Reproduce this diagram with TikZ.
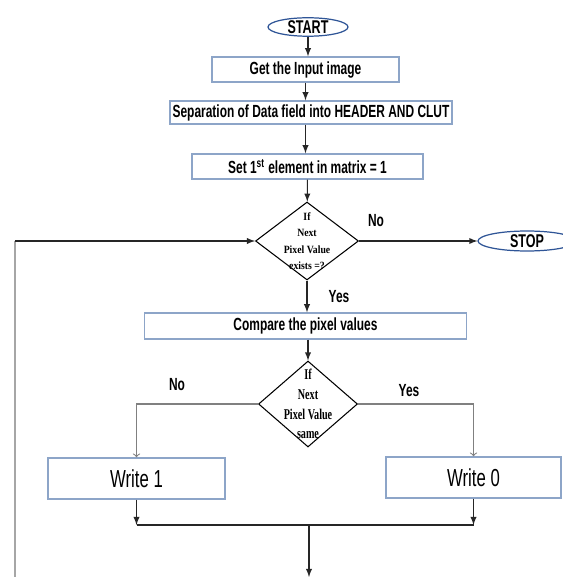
\documentclass[tikz,border=0pt]{standalone}
\usepackage{fontspec}
\usepackage{tikz}
\usetikzlibrary{shapes.geometric}
\newfontfamily\boxfont[FakeStretch=0.68]{Liberation Sans}
\newfontfamily\askfont[FakeStretch=0.88]{Liberation Serif}
\newfontfamily\asknarrow[FakeStretch=0.68]{Liberation Serif}
\definecolor{boxblue}{RGB}{141,165,200}
\definecolor{ovalblue}{RGB}{47,85,151}

\begin{document}
\begin{tikzpicture}[x=0.02cm, y=-0.02cm,
    procbox/.style={draw=boxblue, line width=0.8pt, fill=white, inner sep=0pt,
        font=\boxfont\bfseries\fontsize{10}{12}\selectfont},
    terminal/.style={ellipse, draw=ovalblue, line width=0.7pt, fill=white, inner sep=0pt,
        font=\boxfont\bfseries\fontsize{10.5}{12}\selectfont},
    askbox/.style={diamond, draw, line width=0.6pt, fill=white, inner sep=-8pt, align=center},
    answer/.style={font=\boxfont\bfseries\fontsize{10}{12}\selectfont},
    flow/.style={black!85, line width=0.6pt, ->, >=latex},
    branch/.style={gray, line width=0.6pt, ->, >=to}]
        \useasboundingbox (0,0) rectangle (563,577);

        \node[terminal, minimum width=1.6cm, minimum height=0.36cm] (start) at (308,27) {START};
        \node[procbox, minimum width=3.74cm, minimum height=0.5cm] (input) at (305.5,69.5) {Get the Input image};
        \node[procbox, minimum width=5.64cm, minimum height=0.46cm] (sep) at (311,112.5) {Separation of Data field into HEADER AND CLUT};
        \node[procbox, minimum width=4.62cm, minimum height=0.5cm] (set) at (307.5,166.5) {Set 1\textsuperscript{st} element in matrix = 1};
        \node[askbox, minimum width=2.06cm, minimum height=1.56cm,
            font=\askfont\bfseries\fontsize{6.3}{9.4}\selectfont] (exists) at (307,241) {If\\Next\\Pixel Value\\exists =?};
        \node[terminal, minimum width=1.96cm, minimum height=0.4cm] (stop) at (527,241) {STOP};
        \node[procbox, minimum width=6.44cm, minimum height=0.52cm,
            font=\boxfont\bfseries\fontsize{10}{12}\selectfont] (cmp) at (305.5,326) {Compare the pixel values};
        \node[askbox, minimum width=1.98cm, minimum height=1.72cm,
            font=\asknarrow\bfseries\fontsize{8.5}{11.3}\selectfont] (same) at (308,404) {If\\Next\\Pixel Value\\same};
        \node[procbox, minimum width=3.54cm, minimum height=0.82cm,
            font=\boxfont\fontsize{14}{16}\selectfont] (w1) at (136.5,478.5) {Write 1};
        \node[procbox, minimum width=3.5cm, minimum height=0.82cm,
            font=\boxfont\fontsize{14}{16}\selectfont] (w0) at (473.5,477.5) {Write 0};

        \node[answer] (no1) at (376,221) {No};
        \node[answer] (yes1) at (339,297) {Yes};
        \node[answer] (no2) at (177,385) {No};
        \node[answer] (yes2) at (409,391) {Yes};

        \coordinate (loopend) at (15,577);
        \coordinate (merge) at (309,525);
        \coordinate (down) at (309,577);

        \draw[flow] (start) -- (start |- input.north);
        \draw[flow] (input) -- (input |- sep.north);
        \draw[flow] (sep.south -| input) -- (input |- set.north);
        \draw[flow] (set) -- (exists);
        \draw[flow] (exists) -- (cmp.north -| exists);
        \draw[flow] (cmp.south -| same) -- (same);
        \draw[flow] (exists) -- (stop);
        \draw[gray!70, line width=1.1pt] (loopend) -- (loopend |- exists);
        \draw[flow] (loopend |- exists) -- (exists);
        \draw[branch] (same.west) -| (w1.north);
        \draw[branch] (same.east) -| (w0.north);
        \draw[flow] (w1) -- (w1 |- merge);
        \draw[flow] (w0) -- (w0 |- merge);
        \draw[black!85, line width=0.6pt] (w1 |- merge) -- (w0 |- merge);
        \draw[flow] (merge) -- (down);
    \end{tikzpicture}
\end{document}
